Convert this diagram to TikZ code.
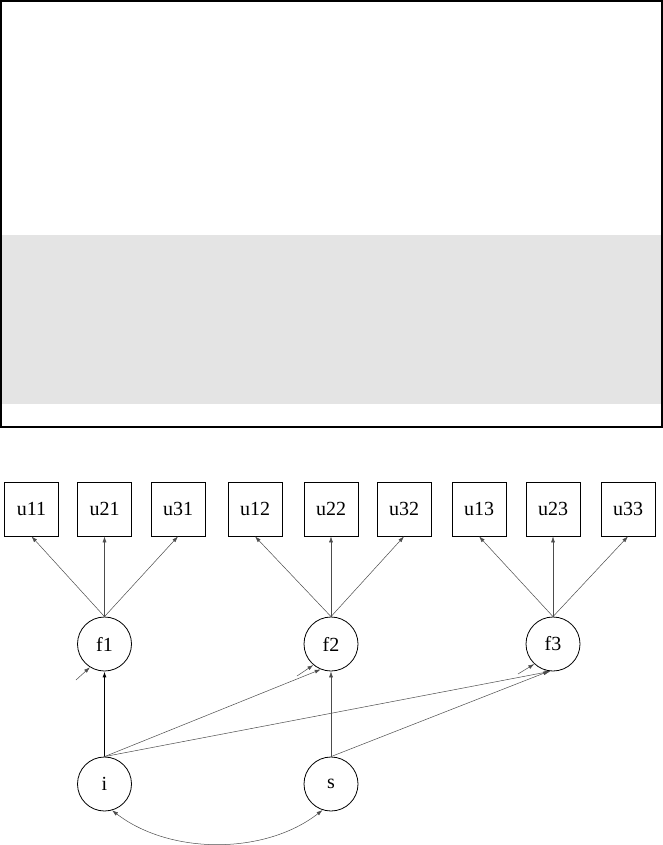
\documentclass[tikz,border=0pt]{standalone}
\usepackage{fontspec}
\setmainfont{Liberation Serif}
\usepackage{tikz}
\usetikzlibrary{positioning, arrows.meta}

\definecolor{bandgray}{RGB}{228,228,228}

\begin{document}
\begin{tikzpicture}[
    x=1pt, y=-1pt,
    obs/.style={draw, line width=0.8pt, minimum width=54pt, minimum height=54pt,
                inner sep=0pt, font=\fontsize{20}{23}\selectfont},
    lat/.style={draw, circle, line width=0.8pt, minimum size=54pt,
                inner sep=0pt, font=\fontsize{20}{23}\selectfont},
    path/.style={-{Latex[length=6pt,width=4pt]}, line width=0.5pt, black!70},
    corr/.style={{Latex[length=6pt,width=4pt]}-{Latex[length=6pt,width=4pt]},
                 line width=0.5pt, black!70}
  ]
    \useasboundingbox (0,0) rectangle (663,845);

    % Top panel
    \fill[bandgray] (1,235) rectangle (662,404);
    \draw[line width=1.2pt] (1,1) rectangle (662,427);

    % Indicators
    \node[obs] (u11) at (31.5,509) {u11};
    \node[obs] (u21) at (104.5,509) {u21};
    \node[obs] (u31) at (178,509) {u31};
    \node[obs] (u12) at (255,509) {u12};
    \node[obs] (u22) at (331,509) {u22};
    \node[obs] (u32) at (404,509) {u32};
    \node[obs] (u13) at (479,509) {u13};
    \node[obs] (u23) at (553,509) {u23};
    \node[obs] (u33) at (628,509) {u33};

    % Factors
    \node[lat] (f1) at (104.5,644) {f1};
    \node[lat] (f2) at (331,644) {f2};
    \node[lat] (f3) at (553,644) {f3};

    % Growth factors
    \node[lat] (i) at (104.5,784) {i};
    \node[lat] (s) at (331,784) {s};

    % Residual ends
    \coordinate (r1) at (76,680);
    \coordinate (r2) at (297,676);
    \coordinate (r3) at (518,674);

    % Loadings
    \draw[path] (f1.north) -- (u11.south);
    \draw[path] (f1.north) -- (u21.south);
    \draw[path] (f1.north) -- (u31.south);
    \draw[path] (f2.north) -- (u12.south);
    \draw[path] (f2.north) -- (u22.south);
    \draw[path] (f2.north) -- (u32.south);
    \draw[path] (f3.north) -- (u13.south);
    \draw[path] (f3.north) -- (u23.south);
    \draw[path] (f3.north) -- (u33.south);

    % Residuals
    \draw[path] (r1) -- (f1.-122);
    \draw[path] (r2) -- (f2.-130);
    \draw[path] (r3) -- (f3.-133);

    % Growth paths
    \draw[path, black, line width=1pt] (i.north) -- (f1.south);
    \draw[path] (i.north) -- (f2.-112);
    \draw[path] (i.north) -- (f3.-95);
    \draw[path] (s.north) -- (f2.south);
    \draw[path] (s.north) -- (f3.-98);

    % Covariance
    \draw[corr] (i.-74) .. controls (170,855) and (265,855) .. (s.-108);
  \end{tikzpicture}
\end{document}
